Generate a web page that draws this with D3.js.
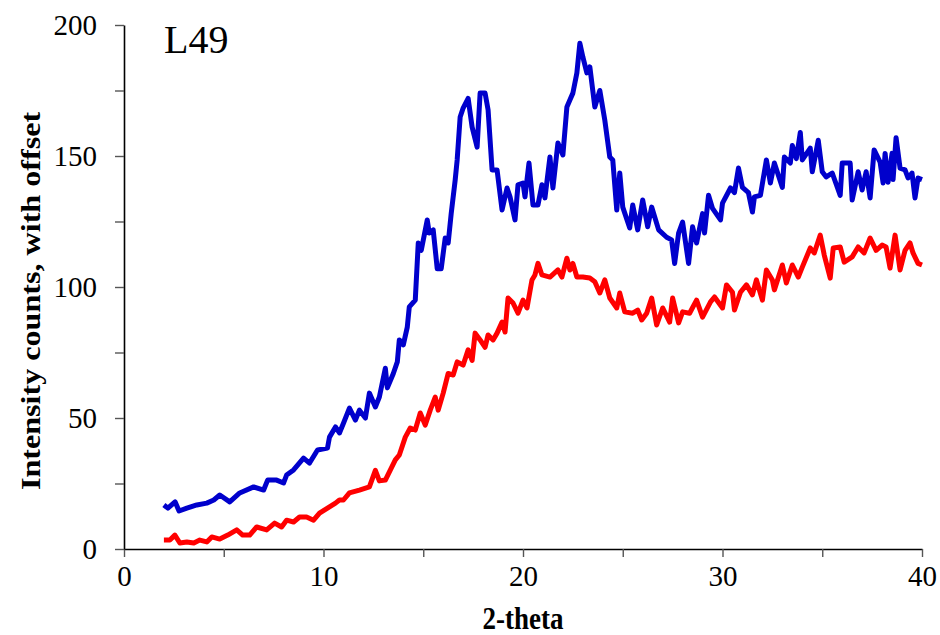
<!DOCTYPE html>
<html>
<head>
<meta charset="utf-8">
<script src="https://cdn.jsdelivr.net/npm/d3@7"></script>
<style>
  body { margin: 0; background: #fff; }
  text { font-family: "Liberation Serif", "Times New Roman", serif; }
</style>
</head>
<body>
<svg id="svg" width="940" height="635"></svg>
<script>
// blue trace (upper, offset)
let blueX = [2.0, 2.2, 2.56, 2.76, 3.15, 3.65, 4.15, 4.5, 4.8, 5.3, 5.8, 6.5, 7.0, 7.2, 7.65, 8.0, 8.15, 8.5, 9.0, 9.3,
  9.7, 10.2, 10.3, 10.6, 10.8, 11.0, 11.3, 11.6, 11.8, 12.1, 12.3, 12.6, 12.8, 13.1, 13.2, 13.5, 13.7, 13.8, 14.0, 14.2,
  14.3, 14.6, 14.75, 14.9, 15.2, 15.3, 15.5, 15.7, 15.9, 16.1, 16.25, 16.4, 16.6, 16.7, 16.85, 17.0, 17.25, 17.45, 17.7, 17.85,
  18.1, 18.25, 18.45, 18.7, 18.95, 19.2, 19.35, 19.6, 19.75, 20.0, 20.1, 20.3, 20.5, 20.75, 20.95, 21.1, 21.35, 21.5, 21.75, 22.0,
  22.2, 22.35, 22.5, 22.7, 22.85, 23.0, 23.2, 23.35, 23.6, 23.85, 24.1, 24.35, 24.5, 24.7, 24.85, 25.0, 25.35, 25.5, 25.75, 26.0,
  26.25, 26.45, 26.8, 27.2, 27.45, 27.6, 27.8, 28.0, 28.3, 28.5, 28.7, 29.0, 29.1, 29.3, 29.5, 29.9, 30.0, 30.4, 30.6, 30.8,
  31.0, 31.3, 31.5, 31.6, 31.9, 32.2, 32.4, 32.6, 33.0, 33.1, 33.4, 33.5, 33.7, 33.9, 34.0, 34.4, 34.5, 34.8, 35.0, 35.2,
  35.5, 35.9, 36.0, 36.4, 36.5, 36.8, 37.0, 37.2, 37.4, 37.6, 37.9, 38.05, 38.15, 38.3, 38.5, 38.55, 38.7, 38.9, 39.15, 39.3,
  39.5, 39.65, 39.8, 40.0];
let blueY = [16.8, 15.6, 18, 14.5, 15.6, 16.8, 17.5, 18.7, 20.6, 18, 21.4, 23.7, 22.5, 26.3, 26.3, 25.2, 28.2, 30.2, 34.7, 32.8,
  37.8, 38.5, 42.7, 46.6, 44.3, 48, 53.8, 49.2, 53, 50, 59.5, 54.2, 58, 69, 61.5, 67, 71.4, 79.8, 77.9, 84.7,
  92.4, 95, 116.8, 114, 125.6, 120.6, 121.8, 107, 107, 118.7, 116.8, 128, 140.8, 148.5, 164.9, 168.3, 172, 161, 153.4, 174,
  174, 167.6, 144.7, 144.7, 129.4, 137.8, 134.4, 125.6, 139, 139.7, 134.4, 147.3, 131.3, 131.3, 139, 134, 149.6, 137.8, 155, 150.4,
  168.7, 171.4, 174, 181.7, 193, 187.8, 181.7, 184, 168.7, 175, 163.7, 149.6, 148.5, 129.4, 143.5, 130.5, 122.5, 131.3, 121.8, 133.2,
  123, 130.5, 121.8, 119, 118, 109, 120.6, 124.8, 109, 123, 116.8, 128, 120.6, 135, 130, 125.6, 132, 137.8, 136, 145.4,
  138, 136, 128.6, 134.4, 135, 148.5, 139.7, 147.3, 138, 149.6, 147.3, 154, 149, 159, 148.5, 153, 144, 156, 144, 142,
  143.5, 135, 147.3, 147.3, 133.2, 144, 137, 144, 134, 152.3, 147.7, 139.7, 151, 140, 151, 141, 157, 145.4, 144.7, 141.6,
  143.5, 134, 141.6, 141];

// red trace (lower)
let redX = [2.0, 2.3, 2.55, 2.8, 3.15, 3.5, 3.8, 4.15, 4.4, 4.8, 5.2, 5.65, 5.95, 6.3, 6.65, 7.15, 7.55, 7.9, 8.15, 8.5,
  8.8, 9.15, 9.5, 9.8, 10.2, 10.6, 10.8, 11.0, 11.3, 11.8, 12.3, 12.6, 12.8, 13.1, 13.6, 13.8, 14.1, 14.35, 14.6, 14.85,
  15.1, 15.35, 15.6, 15.75, 16.0, 16.25, 16.5, 16.7, 17.0, 17.25, 17.45, 17.6, 17.85, 18.1, 18.25, 18.5, 18.7, 18.95, 19.1, 19.25,
  19.5, 19.75, 20.0, 20.2, 20.45, 20.6, 20.75, 20.95, 21.35, 21.75, 21.95, 22.2, 22.35, 22.5, 22.7, 23.0, 23.35, 23.6, 23.85, 24.1,
  24.35, 24.7, 24.85, 25.1, 25.5, 25.75, 25.95, 26.2, 26.45, 26.7, 27.0, 27.35, 27.5, 27.8, 28.0, 28.35, 28.7, 29.0, 29.4, 29.6,
  30.0, 30.2, 30.5, 30.6, 30.9, 31.2, 31.5, 31.7, 32.0, 32.2, 32.5, 32.6, 33.0, 33.2, 33.5, 33.8, 34.0, 34.4, 34.6, 34.9,
  35.1, 35.4, 35.55, 35.9, 36.1, 36.5, 36.8, 37.1, 37.4, 37.7, 38.0, 38.2, 38.4, 38.65, 38.9, 39.15, 39.4, 39.55, 39.8, 40.0];
let redY = [3.4, 3.4, 5.3, 2.3, 2.7, 2.3, 3.4, 2.7, 4.6, 3.8, 5.3, 7.3, 5.3, 5.3, 8.4, 7.3, 9.9, 8.4, 11, 10.3,
  12.2, 12.2, 11, 13.7, 15.6, 17.5, 18.7, 18.7, 21.4, 22.5, 23.7, 30, 26, 26.3, 34, 35.9, 42.7, 46.2, 45.4, 51.9,
  47.3, 53, 58, 53, 59.5, 67, 66.4, 71.4, 70.2, 76, 72, 82.4, 79.8, 77, 81.7, 79.8, 82.4, 86.6, 82.8, 95.8,
  93.9, 90, 95, 92, 102.7, 104.6, 109, 104.6, 103.8, 106.5, 103.8, 111, 106.5, 109, 103.8, 103.8, 103.4, 102, 97.7, 102.7,
  95.8, 92, 97.7, 90.5, 90, 91.2, 87.4, 90, 95.8, 85.5, 92, 86.6, 95.8, 86.3, 90.5, 90, 95, 88.5, 94.3, 96.2,
  92, 100.8, 98, 91.2, 98, 100.8, 97, 102.7, 95, 106.5, 102.7, 98.9, 108.4, 101.5, 108.4, 103.8, 107.6, 114.9, 113, 119.8,
  112.2, 103.4, 114.9, 115.3, 109.5, 111.5, 115.3, 113, 118.7, 114, 116, 115.3, 107.2, 119.8, 106.5, 114, 116.8, 113, 109, 108.4];

let xTicks = d3.range(0, 41, 5);
let yTicks = d3.range(0, 201, 25);

let svg = d3.select("#svg");
let margin = { top: 25, right: 18, bottom: 86, left: 124 };
let width = +svg.attr("width") - margin.left - margin.right;
let height = +svg.attr("height") - margin.top - margin.bottom;

let g = svg.append("g").attr("transform", `translate(${margin.left},${margin.top})`);

let x = d3.scaleLinear().domain([0, 40]).range([0, width]);
let y = d3.scaleLinear().domain([0, 200]).range([height, 0]);

// axes - ticks every 5 / 25, labels only every 10 / 50
let xAxis = g.append("g")
  .attr("transform", `translate(0,${height})`)
  .call(d3.axisBottom(x).tickValues(xTicks).tickSizeInner(8).tickSizeOuter(0).tickPadding(8)
    .tickFormat((d) => (d % 10 === 0 ? d : "")));
let yAxis = g.append("g")
  .call(d3.axisLeft(y).tickValues(yTicks).tickSizeInner(9).tickSizeOuter(0).tickPadding(18)
    .tickFormat((d) => (d % 50 === 0 ? d : "")));

[xAxis, yAxis].forEach((a) => {
  a.select(".domain").attr("stroke", "#000").attr("stroke-width", 1.6);
  a.selectAll(".tick line").attr("stroke", "#555").attr("stroke-width", 1.4);
  a.selectAll(".tick text").attr("font-family", "Liberation Serif").attr("font-size", 29).attr("fill", "#000");
});

let line = d3.line()
  .x((d) => x(d[0]))
  .y((d) => y(d[1]));

g.append("path")
  .datum(redX.map((v, i) => [v, redY[i]]))
  .attr("d", line)
  .attr("fill", "none")
  .attr("stroke", "#ff0000")
  .attr("stroke-width", 5)
  .attr("stroke-linejoin", "round");

g.append("path")
  .datum(blueX.map((v, i) => [v, blueY[i]]))
  .attr("d", line)
  .attr("fill", "none")
  .attr("stroke", "#0000cc")
  .attr("stroke-width", 5)
  .attr("stroke-linejoin", "round");

// labels (original text is stretched a bit vertically)
svg.append("text")
  .attr("transform", `translate(${margin.left + x(20)},629) scale(1,1.15)`)
  .attr("text-anchor", "middle")
  .attr("font-weight", "bold")
  .attr("font-size", 27)
  .text("2-theta");

svg.append("text")
  .attr("transform", `translate(40,${margin.top + height / 2 + 14}) rotate(-90) scale(1.19,1)`)
  .attr("text-anchor", "middle")
  .attr("font-weight", "bold")
  .attr("font-size", 27)
  .text("Intensity counts, with offset");

svg.append("text")
  .attr("x", 164)
  .attr("y", 53)
  .attr("font-size", 40)
  .text("L49");
</script>
</body>
</html>
